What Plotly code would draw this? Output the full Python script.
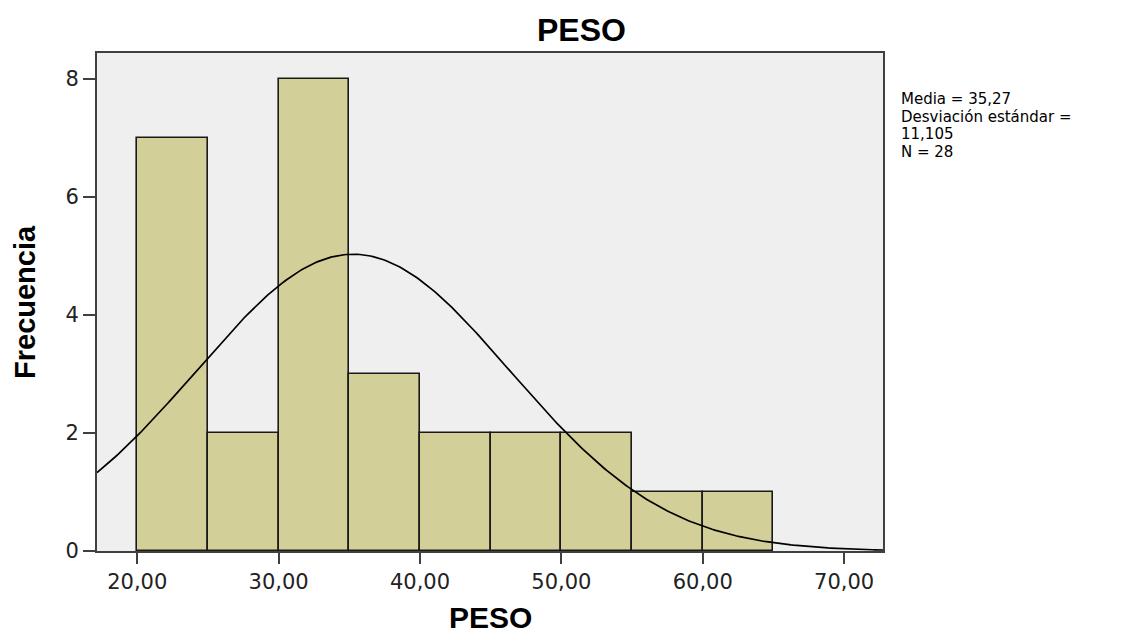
import numpy as np
import plotly.graph_objects as go

# histogram bins (PESO) and frequencies
bin_starts = [20, 25, 30, 35, 40, 45, 50, 55, 60]
bin_width = 5
frecuencia = [7, 2, 8, 3, 2, 2, 2, 1, 1]

# summary stats shown in the panel
MEDIA = 35.27
DESV = 11.105
N = 28

x_ticks = [20, 30, 40, 50, 60, 70]
x_tick_labels = ["20,00", "30,00", "40,00", "50,00", "60,00", "70,00"]
y_ticks = [0, 2, 4, 6, 8]

X_RANGE = [17.15, 72.75]
Y_RANGE = [0, 8.44]

TITLE_FONT = "Liberation Sans, Arial, sans-serif"
TEXT_FONT = "DejaVu Sans, sans-serif"
BAR_COLOR = "#D3CF98"
BG = "#EFEFEF"
AXIS = "#404040"

fig = go.Figure()

fig.add_trace(go.Bar(
    x=[s + bin_width / 2 for s in bin_starts],
    y=frecuencia,
    width=bin_width,
    marker=dict(color=BAR_COLOR, line=dict(color="#1a1a1a", width=1.6)),
    showlegend=False,
))

# fitted normal curve scaled to counts
xc = np.linspace(X_RANGE[0], X_RANGE[1], 300)
yc = N * bin_width / (DESV * np.sqrt(2 * np.pi)) * np.exp(-0.5 * ((xc - MEDIA) / DESV) ** 2)
fig.add_trace(go.Scatter(
    x=xc, y=yc, mode="lines",
    line=dict(color="black", width=1.7),
    showlegend=False,
))

axis_common = dict(
    showgrid=False, zeroline=False,
    showline=True, linecolor=AXIS, linewidth=2, mirror=True,
    ticks="outside", tickwidth=2, tickcolor=AXIS,
    tickfont=dict(family=TEXT_FONT, size=21, color="#222222"),
)

fig.update_layout(
    width=1123, height=634,
    margin=dict(l=89, r=248, t=45, b=91),
    paper_bgcolor="white", plot_bgcolor=BG,
    bargap=0,
    font=dict(family=TEXT_FONT),
    xaxis=dict(range=X_RANGE, tickvals=x_ticks, ticktext=x_tick_labels,
               ticklen=11, **axis_common),
    yaxis=dict(range=Y_RANGE, tickvals=y_ticks, ticklen=12, **axis_common),
)

# chart title
fig.add_annotation(
    text="<b>PESO</b>", xref="paper", yref="paper",
    x=0.616, y=1, yshift=23, xanchor="center", yanchor="middle",
    showarrow=False, font=dict(family=TITLE_FONT, size=32, color="black"),
)
# x axis title
fig.add_annotation(
    text="<b>PESO</b>", xref="paper", yref="paper",
    x=0.5, y=0, yshift=-66, xanchor="center", yanchor="middle",
    showarrow=False, font=dict(family=TITLE_FONT, size=30, color="black"),
)
# y axis title
fig.add_annotation(
    text="<b>Frecuencia</b>", xref="paper", yref="paper",
    x=0, xshift=-72, y=0.5, xanchor="center", yanchor="middle",
    textangle=-90, showarrow=False,
    font=dict(family=TITLE_FONT, size=29, color="black"),
)

stats_lines = [
    "Media = " + f"{MEDIA:.2f}".replace(".", ","),
    "Desviación estándar =",
    f"{DESV:.3f}".replace(".", ","),
    f"N = {N}",
]
for i, line in enumerate(stats_lines):
    fig.add_annotation(
        text=line, xref="paper", yref="paper",
        x=1, xshift=16, y=1, yshift=-46 - 17.5 * i,
        xanchor="left", yanchor="middle", align="left", showarrow=False,
        font=dict(family=TEXT_FONT, size=15, color="black"),
    )

fig.write_html("out.html")
